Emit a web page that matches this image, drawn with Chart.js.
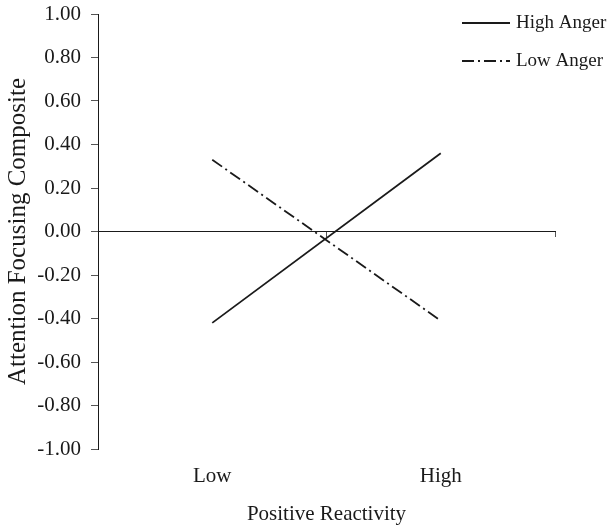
<!DOCTYPE html>
<html>
<head>
<meta charset="utf-8">
<script src="https://cdn.jsdelivr.net/npm/chart.js@4.4.1/dist/chart.umd.min.js"></script>
<style>
  html, body { margin: 0; padding: 0; background: #fff; }
  #wrap { width: 611px; height: 527px; }
</style>
</head>
<body>
<div id="wrap"><canvas id="chart" width="611" height="527"></canvas></div>
<script>
// values
const categories = ['Low', 'High'];
const highAnger = [-0.42, 0.36];
const lowAnger = [0.33, -0.41];
const seriesNames = ['High Anger', 'Low Anger'];
const yMin = -1, yMax = 1, yStep = 0.2;

const serif = "'Liberation Serif', 'Times New Roman', serif";
const ink = '#1a1a1a';

// legend drawn by hand: stacked at top right, reaching past the plot edge
const sideLegend = {
    id: 'sideLegend',
    afterDraw(chart, args, opts) {
        const ctx = chart.ctx;
        ctx.save();
        ctx.font = opts.fontSize + 'px ' + serif;
        ctx.textBaseline = 'middle';
        ctx.fillStyle = ink;
        chart.data.datasets.forEach((ds, i) => {
            const y = opts.top + i * opts.rowGap;
            ctx.strokeStyle = ds.borderColor;
            ctx.lineWidth = ds.borderWidth;
            ctx.setLineDash(ds.borderDash || []);
            ctx.beginPath();
            ctx.moveTo(opts.left, y);
            ctx.lineTo(opts.left + opts.lineLength, y);
            ctx.stroke();
            ctx.fillText(ds.label, opts.left + opts.lineLength + opts.gap, y);
        });
        ctx.restore();
    }
};

new Chart(document.getElementById('chart'), {
    type: 'line',
    data: {
        labels: categories,
        datasets: [
            {
                label: seriesNames[0],
                data: highAnger,
                borderColor: ink,
                borderWidth: 1.8,
                pointRadius: 0,
                tension: 0,
                fill: false
            },
            {
                label: seriesNames[1],
                data: lowAnger,
                borderColor: ink,
                borderWidth: 1.8,
                borderDash: [12, 4, 2, 4],
                pointRadius: 0,
                tension: 0,
                fill: false
            }
        ]
    },
    options: {
        responsive: false,
        animation: false,
        layout: { padding: { top: 14, right: 56, bottom: 0, left: 0 } },
        plugins: {
            legend: { display: false },
            tooltip: { enabled: false },
            sideLegend: { left: 462, top: 23, rowGap: 38, lineLength: 48, gap: 6, fontSize: 19 }
        },
        scales: {
            // axis line sits on zero, ticks between categories
            x: {
                type: 'category',
                position: { y: 0 },
                offset: true,
                border: { display: true, color: ink, width: 1 },
                grid: { display: true, offset: true, drawOnChartArea: false, drawTicks: true, tickLength: 5, color: '#555' },
                ticks: { display: false }
            },
            // category labels and title at the bottom
            x2: {
                type: 'category',
                labels: categories,
                position: 'bottom',
                offset: true,
                border: { display: false },
                grid: { display: false },
                ticks: { color: ink, font: { family: serif, size: 21 }, padding: 7 },
                title: {
                    display: true,
                    text: 'Positive Reactivity',
                    color: ink,
                    font: { family: serif, size: 21 },
                    padding: { top: 12, bottom: 0 }
                },
                afterFit: s => { s.height = 78; }
            },
            y: {
                min: yMin,
                max: yMax,
                ticks: {
                    stepSize: yStep,
                    color: ink,
                    font: { family: serif, size: 21 },
                    padding: 10,
                    callback: v => (Math.abs(v) < 1e-9 ? 0 : v).toFixed(2)
                },
                border: { display: true, color: ink, width: 1 },
                grid: { drawOnChartArea: false, drawTicks: true, tickLength: 7, tickColor: '#555' },
                title: {
                    display: true,
                    text: 'Attention Focusing Composite',
                    color: ink,
                    font: { family: serif, size: 25 },
                    padding: { top: 3, bottom: 4 }
                },
                afterFit: s => {
                    s.width = 98;
                    s.paddingTop = 0;
                    s.paddingBottom = 0;
                }
            }
        }
    },
    plugins: [sideLegend]
});
</script>
</body>
</html>
